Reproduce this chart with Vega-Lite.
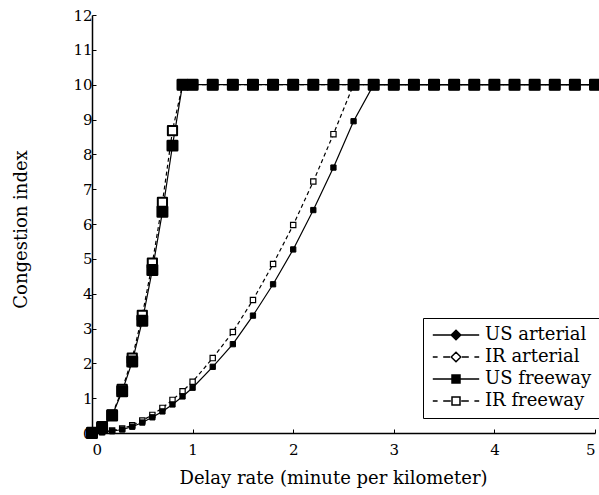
{
  "$schema": "https://vega.github.io/schema/vega-lite/v6.json",
  "width": 503,
  "height": 418,
  "autosize": {"type": "none"},
  "padding": {"left": 92, "top": 15, "right": 4, "bottom": 62},
  "background": "white",
  "config": {
    "view": {"stroke": null},
    "font": "DejaVu Serif",
    "axis": {
      "domainColor": "black", "domainWidth": 1.5, "tickColor": "black", "tickSize": -4, "tickWidth": 1,
      "labelColor": "black", "labelFont": "DejaVu Serif", "labelFontSize": 15,
      "titleColor": "black", "titleFont": "DejaVu Serif", "titleFontSize": 18, "titleFontWeight": "normal",
      "grid": false
    },
    "legend": {
      "labelFont": "DejaVu Serif", "labelFontSize": 18, "labelColor": "black"
    }
  },
  "data": {"values": [
    {"series": "US freeway", "x": 0, "y": 0},
    {"series": "US freeway", "x": 0.1, "y": 0.15},
    {"series": "US freeway", "x": 0.2, "y": 0.5},
    {"series": "US freeway", "x": 0.3, "y": 1.2},
    {"series": "US freeway", "x": 0.4, "y": 2.05},
    {"series": "US freeway", "x": 0.5, "y": 3.22},
    {"series": "US freeway", "x": 0.6, "y": 4.68},
    {"series": "US freeway", "x": 0.7, "y": 6.35},
    {"series": "US freeway", "x": 0.8, "y": 8.25},
    {"series": "US freeway", "x": 0.9, "y": 10},
    {"series": "US freeway", "x": 1.0, "y": 10},
    {"series": "US freeway", "x": 1.2, "y": 10},
    {"series": "US freeway", "x": 1.4, "y": 10},
    {"series": "US freeway", "x": 1.6, "y": 10},
    {"series": "US freeway", "x": 1.8, "y": 10},
    {"series": "US freeway", "x": 2.0, "y": 10},
    {"series": "US freeway", "x": 2.2, "y": 10},
    {"series": "US freeway", "x": 2.4, "y": 10},
    {"series": "US freeway", "x": 2.6, "y": 10},
    {"series": "US freeway", "x": 2.8, "y": 10},
    {"series": "US freeway", "x": 3.0, "y": 10},
    {"series": "US freeway", "x": 3.2, "y": 10},
    {"series": "US freeway", "x": 3.4, "y": 10},
    {"series": "US freeway", "x": 3.6, "y": 10},
    {"series": "US freeway", "x": 3.8, "y": 10},
    {"series": "US freeway", "x": 4.0, "y": 10},
    {"series": "US freeway", "x": 4.2, "y": 10},
    {"series": "US freeway", "x": 4.4, "y": 10},
    {"series": "US freeway", "x": 4.6, "y": 10},
    {"series": "US freeway", "x": 4.8, "y": 10},
    {"series": "US freeway", "x": 5.0, "y": 10},
    {"series": "IR freeway", "x": 0, "y": 0.02},
    {"series": "IR freeway", "x": 0.1, "y": 0.18},
    {"series": "IR freeway", "x": 0.2, "y": 0.52},
    {"series": "IR freeway", "x": 0.3, "y": 1.25},
    {"series": "IR freeway", "x": 0.4, "y": 2.15},
    {"series": "IR freeway", "x": 0.5, "y": 3.38},
    {"series": "IR freeway", "x": 0.6, "y": 4.88},
    {"series": "IR freeway", "x": 0.7, "y": 6.62},
    {"series": "IR freeway", "x": 0.8, "y": 8.68},
    {"series": "IR freeway", "x": 0.9, "y": 10},
    {"series": "IR freeway", "x": 1.0, "y": 10},
    {"series": "IR freeway", "x": 1.2, "y": 10},
    {"series": "IR freeway", "x": 1.4, "y": 10},
    {"series": "IR freeway", "x": 1.6, "y": 10},
    {"series": "IR freeway", "x": 1.8, "y": 10},
    {"series": "IR freeway", "x": 2.0, "y": 10},
    {"series": "IR freeway", "x": 2.2, "y": 10},
    {"series": "IR freeway", "x": 2.4, "y": 10},
    {"series": "IR freeway", "x": 2.6, "y": 10},
    {"series": "IR freeway", "x": 2.8, "y": 10},
    {"series": "IR freeway", "x": 3.0, "y": 10},
    {"series": "IR freeway", "x": 3.2, "y": 10},
    {"series": "IR freeway", "x": 3.4, "y": 10},
    {"series": "IR freeway", "x": 3.6, "y": 10},
    {"series": "IR freeway", "x": 3.8, "y": 10},
    {"series": "IR freeway", "x": 4.0, "y": 10},
    {"series": "IR freeway", "x": 4.2, "y": 10},
    {"series": "IR freeway", "x": 4.4, "y": 10},
    {"series": "IR freeway", "x": 4.6, "y": 10},
    {"series": "IR freeway", "x": 4.8, "y": 10},
    {"series": "IR freeway", "x": 5.0, "y": 10},
    {"series": "US arterial", "x": 0, "y": 0},
    {"series": "US arterial", "x": 0.1, "y": 0.02},
    {"series": "US arterial", "x": 0.2, "y": 0.05},
    {"series": "US arterial", "x": 0.3, "y": 0.1},
    {"series": "US arterial", "x": 0.4, "y": 0.18},
    {"series": "US arterial", "x": 0.5, "y": 0.3},
    {"series": "US arterial", "x": 0.6, "y": 0.45},
    {"series": "US arterial", "x": 0.7, "y": 0.62},
    {"series": "US arterial", "x": 0.8, "y": 0.82},
    {"series": "US arterial", "x": 0.9, "y": 1.05},
    {"series": "US arterial", "x": 1.0, "y": 1.3},
    {"series": "US arterial", "x": 1.2, "y": 1.9},
    {"series": "US arterial", "x": 1.4, "y": 2.55},
    {"series": "US arterial", "x": 1.6, "y": 3.37},
    {"series": "US arterial", "x": 1.8, "y": 4.27},
    {"series": "US arterial", "x": 2.0, "y": 5.27},
    {"series": "US arterial", "x": 2.2, "y": 6.4},
    {"series": "US arterial", "x": 2.4, "y": 7.62},
    {"series": "US arterial", "x": 2.6, "y": 8.95},
    {"series": "US arterial", "x": 2.8, "y": 10},
    {"series": "US arterial", "x": 3.0, "y": 10},
    {"series": "US arterial", "x": 3.2, "y": 10},
    {"series": "US arterial", "x": 3.4, "y": 10},
    {"series": "US arterial", "x": 3.6, "y": 10},
    {"series": "US arterial", "x": 3.8, "y": 10},
    {"series": "US arterial", "x": 4.0, "y": 10},
    {"series": "US arterial", "x": 4.2, "y": 10},
    {"series": "US arterial", "x": 4.4, "y": 10},
    {"series": "US arterial", "x": 4.6, "y": 10},
    {"series": "US arterial", "x": 4.8, "y": 10},
    {"series": "US arterial", "x": 5.0, "y": 10},
    {"series": "IR arterial", "x": 0, "y": 0},
    {"series": "IR arterial", "x": 0.1, "y": 0.03},
    {"series": "IR arterial", "x": 0.2, "y": 0.07},
    {"series": "IR arterial", "x": 0.3, "y": 0.13},
    {"series": "IR arterial", "x": 0.4, "y": 0.22},
    {"series": "IR arterial", "x": 0.5, "y": 0.36},
    {"series": "IR arterial", "x": 0.6, "y": 0.52},
    {"series": "IR arterial", "x": 0.7, "y": 0.72},
    {"series": "IR arterial", "x": 0.8, "y": 0.95},
    {"series": "IR arterial", "x": 0.9, "y": 1.2},
    {"series": "IR arterial", "x": 1.0, "y": 1.47},
    {"series": "IR arterial", "x": 1.2, "y": 2.15},
    {"series": "IR arterial", "x": 1.4, "y": 2.9},
    {"series": "IR arterial", "x": 1.6, "y": 3.82},
    {"series": "IR arterial", "x": 1.8, "y": 4.85},
    {"series": "IR arterial", "x": 2.0, "y": 5.97},
    {"series": "IR arterial", "x": 2.2, "y": 7.22},
    {"series": "IR arterial", "x": 2.4, "y": 8.58},
    {"series": "IR arterial", "x": 2.6, "y": 10},
    {"series": "IR arterial", "x": 2.8, "y": 10},
    {"series": "IR arterial", "x": 3.0, "y": 10},
    {"series": "IR arterial", "x": 3.2, "y": 10},
    {"series": "IR arterial", "x": 3.4, "y": 10},
    {"series": "IR arterial", "x": 3.6, "y": 10},
    {"series": "IR arterial", "x": 3.8, "y": 10},
    {"series": "IR arterial", "x": 4.0, "y": 10},
    {"series": "IR arterial", "x": 4.2, "y": 10},
    {"series": "IR arterial", "x": 4.4, "y": 10},
    {"series": "IR arterial", "x": 4.6, "y": 10},
    {"series": "IR arterial", "x": 4.8, "y": 10},
    {"series": "IR arterial", "x": 5.0, "y": 10}
  ]},
  "encoding": {
    "x": {"field": "x", "type": "quantitative", "title": "Delay rate (minute per kilometer)",
      "scale": {"domain": [0, 5], "nice": false},
      "axis": {"values": [0, 1, 2, 3, 4, 5], "labelPadding": 13, "titlePadding": 12, "titleX": 241}},
    "y": {"field": "y", "type": "quantitative", "title": "Congestion index",
      "scale": {"domain": [0, 12], "nice": false},
      "axis": {"values": [0,1,2,3,4,5,6,7,8,9,10,11,12], "labelPadding": 4, "titlePadding": 42, "titleY": 214}}
  },
  "layer": [
    {
      "transform": [{"filter": "datum.series == 'IR arterial' || datum.series == 'IR freeway'"}],
      "mark": {"type": "line", "color": "black", "strokeWidth": 1.2, "strokeDash": [4, 3]},
      "encoding": {"detail": {"field": "series"}}
    },
    {
      "transform": [{"filter": "datum.series == 'US arterial' || datum.series == 'US freeway'"}],
      "mark": {"type": "line", "color": "black", "strokeWidth": 1.2},
      "encoding": {"detail": {"field": "series"}}
    },
    {
      "transform": [{"filter": "datum.series == 'IR arterial'"}],
      "mark": {"type": "point", "shape": "square", "size": 28, "filled": false, "fill": "white", "stroke": "black", "strokeWidth": 1.2, "opacity": 1}
    },
    {
      "transform": [{"filter": "datum.series == 'US arterial'"}],
      "mark": {"type": "point", "shape": "square", "size": 28, "filled": true, "fill": "black", "stroke": "black", "strokeWidth": 1, "opacity": 1}
    },
    {
      "transform": [{"filter": "datum.series == 'IR freeway'"}],
      "mark": {"type": "point", "shape": "square", "size": 85, "filled": false, "fill": "white", "stroke": "black", "strokeWidth": 2, "strokeJoin": "round", "opacity": 1}
    },
    {
      "transform": [{"filter": "datum.series == 'US freeway'"}],
      "mark": {"type": "point", "shape": "square", "size": 90, "filled": true, "fill": "black", "stroke": "black", "strokeWidth": 2.5, "strokeJoin": "round", "opacity": 1}
    },
    {
      "transform": [{"filter": "datum.x == 5"}],
      "mark": {"type": "point", "filled": true, "opacity": 0, "strokeWidth": 1.5},
      "encoding": {
        "shape": {"field": "series", "title": null,
          "scale": {"domain": ["US arterial", "IR arterial", "US freeway", "IR freeway"],
            "range": [
              "M-2.9,0H2.9M0,-0.6L0.6,0L0,0.6L-0.6,0Z",
              "M-2.9,0H-2.3M-1.6,0H-0.75M0.75,0H1.6M2.3,0H2.9M0,-0.6L0.6,0L0,0.6L-0.6,0Z",
              "M-2.9,0H2.9M-0.5,-0.5H0.5V0.5H-0.5Z",
              "M-2.9,0H-2.3M-1.6,0H-0.65M0.65,0H1.6M2.3,0H2.9M-0.5,-0.5H0.5V0.5H-0.5Z"
            ]},
          "legend": {
            "orient": "none", "legendX": 331, "legendY": 303,
            "symbolSize": 256, "symbolOffset": 16, "labelOffset": 20,
            "symbolOpacity": 1, "symbolStrokeWidth": 1.5,
            "rowPadding": 4, "padding": 8,
            "strokeColor": "black", "fillColor": "white"
          }
        },
        "fill": {"field": "series", "title": null,
          "scale": {"domain": ["US arterial", "IR arterial", "US freeway", "IR freeway"], "range": ["black", "white", "black", "white"]}},
        "stroke": {"field": "series", "title": null,
          "scale": {"domain": ["US arterial", "IR arterial", "US freeway", "IR freeway"], "range": ["black", "black", "black", "black"]}}
      }
    }
  ]
}
